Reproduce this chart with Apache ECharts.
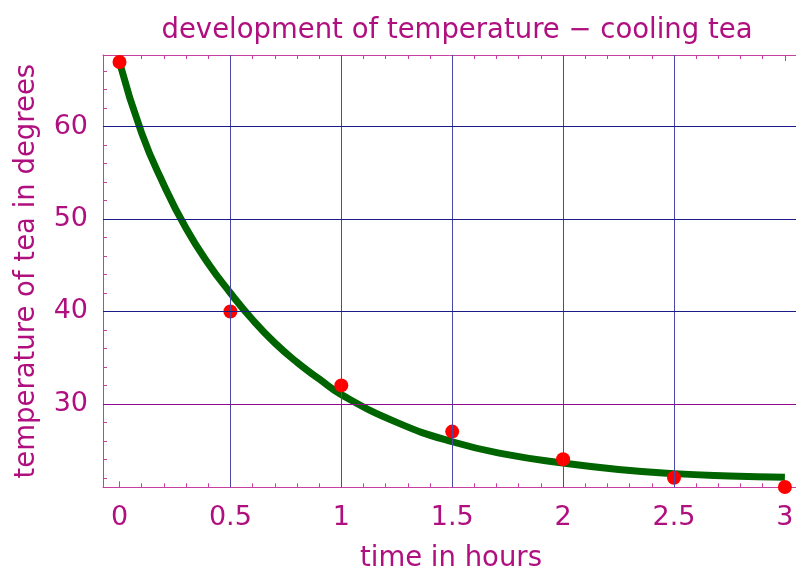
<!DOCTYPE html>
<html>
<head>
<meta charset="utf-8">
<script src="https://cdn.jsdelivr.net/npm/echarts@6/dist/echarts.min.js"></script>
<style>
html,body{margin:0;padding:0;background:#fff;}
#chart{width:796px;height:571px;}
</style>
</head>
<body>
<div id="chart"></div>
<script>
// ---- data ----
var titleText = 'development of temperature \u2212 cooling tea';
var xName = 'time in hours';
var yName = 'temperature of tea in degrees';

var pointT = [0, 0.5, 1, 1.5, 2, 2.5, 3];
var pointV = [67, 40, 32, 27, 24, 22, 21];

var curveT = [0, 0.1, 0.2, 0.3, 0.4, 0.5, 0.6, 0.7, 0.8, 0.9, 1.0, 1.25, 1.5, 1.75, 2.0, 2.25, 2.5, 2.75, 3.0];
var curveV = [67.0, 59.3, 53.7, 49.0, 45.2, 42.0, 39.1, 36.6, 34.5, 32.7, 31.0, 28.0, 25.9, 24.5, 23.6, 22.9, 22.45, 22.2, 22.05];

var xTickLabels = [0, 0.5, 1, 1.5, 2, 2.5, 3];
var xMinorTicks = [0.1, 0.2, 0.3, 0.4, 0.6, 0.7, 0.8, 0.9, 1.1, 1.2, 1.3, 1.4, 1.6, 1.7, 1.8, 1.9, 2.1, 2.2, 2.3, 2.4, 2.6, 2.7, 2.8, 2.9];
var yTickLabels = [30, 40, 50, 60];
var yMinorTicks = [22, 24, 26, 28, 32, 34, 36, 38, 42, 44, 46, 48, 52, 54, 56, 58, 62, 64, 66];
var gridX = [0.5, 1, 1.5, 2, 2.5];
var gridYBlue = [40, 50, 60];
var gridYPurple = [30];

// ---- styling ----
var textColor = '#b0107f';
var frameColor = '#c8409f';
var font = 'DejaVu Sans';
var X_MIN = -0.0744, X_MAX = 3.0636;
var Y_MIN = 20.97, Y_MAX = 67.76;

function xAx(pos, major, showLine, showLabel) {
  return {
    type: 'value', position: pos, min: X_MIN, max: X_MAX,
    splitLine: {show: false},
    axisLine: {show: showLine, onZero: false, lineStyle: {color: frameColor, width: 1}},
    axisTick: {show: true, inside: true, length: major ? 6 : 4,
      customValues: major ? xTickLabels : xMinorTicks,
      lineStyle: {color: frameColor, width: 1}},
    axisLabel: showLabel ? {show: true, customValues: xTickLabels, color: textColor,
      fontSize: 27, fontFamily: font, margin: 17} : {show: false},
    name: showLabel ? xName : '',
    nameLocation: 'middle', nameGap: 58,
    nameTextStyle: {color: textColor, fontSize: 27.5, fontFamily: font}
  };
}
function yAx(major, showLine, showLabel) {
  return {
    type: 'value', position: 'left', min: Y_MIN, max: Y_MAX,
    splitLine: {show: false},
    axisLine: {show: showLine, onZero: false, lineStyle: {color: frameColor, width: 1}},
    axisTick: {show: true, inside: true, length: major ? 6 : 4,
      customValues: major ? yTickLabels : yMinorTicks,
      lineStyle: {color: frameColor, width: 1}},
    axisLabel: showLabel ? {show: true, customValues: yTickLabels, color: textColor,
      fontSize: 27, fontFamily: font, margin: 15} : {show: false},
    name: showLabel ? yName : '',
    nameLocation: 'middle', nameGap: 62, nameRotate: 90,
    nameTextStyle: {color: textColor, fontSize: 27.5, fontFamily: font}
  };
}

function gridSeries(items, color) {
  return {
    type: 'line', data: [], xAxisIndex: 0, yAxisIndex: 0, z: 1, silent: true,
    markLine: {silent: true, symbol: ['none', 'none'], label: {show: false},
      emphasis: {disabled: true}, animation: false,
      lineStyle: {color: color, width: 1, type: 'solid', opacity: 1},
      data: items}
  };
}

var chart = echarts.init(document.getElementById('chart'), null, {renderer: 'canvas'});
chart.setOption({
  animation: false,
  backgroundColor: '#ffffff',
  title: {
    text: titleText, left: 452, top: 12, textAlign: 'center',
    textStyle: {color: textColor, fontSize: 27.5, fontWeight: 'normal', fontFamily: font}
  },
  grid: {left: 103, top: 55, right: -3, bottom: 571 - 487.3, containLabel: false, outerBoundsMode: 'none'},
  xAxis: [xAx('bottom', true, true, true), xAx('bottom', false, false, false),
          xAx('top', true, true, false), xAx('top', false, false, false)],
  yAxis: [yAx(true, true, true), yAx(false, false, false)],
  series: [
    gridSeries(gridX.map(function (v) { return {xAxis: v}; }), '#4a4aa4'),
    gridSeries(gridYBlue.map(function (v) { return {yAxis: v}; }), '#1c1c88'),
    gridSeries(gridYPurple.map(function (v) { return {yAxis: v}; }), '#900a90'),
    {
      type: 'line', xAxisIndex: 0, yAxisIndex: 0, z: 3,
      data: curveT.map(function (t, i) { return [t, curveV[i]]; }),
      smooth: true, showSymbol: false, symbol: 'none',
      lineStyle: {color: '#006400', width: 7, cap: 'butt'}
    },
    {
      type: 'scatter', xAxisIndex: 0, yAxisIndex: 0, z: 4, clip: false,
      data: pointT.map(function (t, i) { return [t, pointV[i]]; }),
      symbolSize: 14, itemStyle: {color: '#ff0000', opacity: 1}
    }
  ]
});
</script>
</body>
</html>
